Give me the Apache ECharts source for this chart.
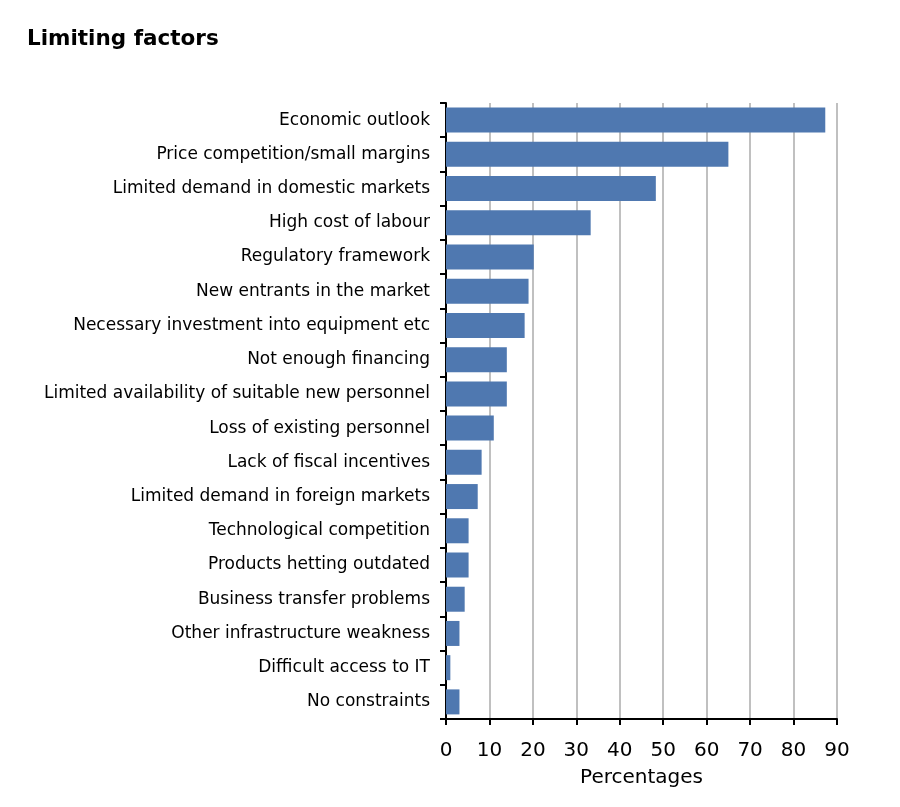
<!DOCTYPE html>
<html>
<head>
<meta charset="utf-8">
<script src="https://cdn.jsdelivr.net/npm/echarts@6/dist/echarts.min.js"></script>
<style>
html,body{margin:0;padding:0;background:#fff;}
#chart{width:900px;height:807px;}
</style>
</head>
<body>
<div id="chart"></div>
<script>
const titleText = 'Limiting factors';
const categories = [
  'Economic outlook',
  'Price competition/small margins',
  'Limited demand in domestic markets',
  'High cost of labour',
  'Regulatory framework',
  'New entrants in the market',
  'Necessary investment into equipment etc',
  'Not enough financing',
  'Limited availability of suitable new personnel',
  'Loss of existing personnel',
  'Lack of fiscal incentives',
  'Limited demand in foreign markets',
  'Technological competition',
  'Products hetting outdated',
  'Business transfer problems',
  'Other infrastructure weakness',
  'Difficult access to IT',
  'No constraints'
];
const values = [87.3, 65.0, 48.3, 33.3, 20.2, 19.0, 18.1, 14.0, 14.0, 11.0, 8.2, 7.3, 5.2, 5.2, 4.3, 3.1, 1.0, 3.1];
const xAxisName = 'Percentages';

const FONT = '"DejaVu Sans", Verdana, sans-serif';
const chart = echarts.init(document.getElementById('chart'));
chart.setOption({
  animation: false,
  backgroundColor: '#ffffff',
  title: {
    text: titleText,
    left: 22,
    top: 23,
    textStyle: { fontFamily: FONT, fontWeight: 'bold', fontSize: 21.5, color: '#000' }
  },
  grid: { left: 446, right: 63, top: 103, bottom: 88, containLabel: false },
  xAxis: {
    type: 'value',
    min: 0, max: 90, interval: 10,
    name: xAxisName,
    nameLocation: 'middle',
    nameGap: 49,
    nameTextStyle: { fontFamily: FONT, fontSize: 20, color: '#000' },
    axisLine: { show: true, lineStyle: { color: '#000', width: 2 } },
    axisTick: { show: true, length: 6, lineStyle: { color: '#000', width: 2 } },
    axisLabel: { margin: 22, fontFamily: FONT, fontSize: 20, color: '#000' },
    splitLine: { show: true, lineStyle: { color: '#c0c0c0', width: 2 } }
  },
  yAxis: {
    type: 'category',
    inverse: true,
    data: categories,
    axisLine: { show: true, lineStyle: { color: '#000', width: 2 } },
    axisTick: { show: true, length: 6, lineStyle: { color: '#000', width: 2 } },
    axisLabel: { margin: 16, fontFamily: FONT, fontSize: 17, color: '#000' },
    splitLine: { show: false }
  },
  series: [{
    type: 'bar',
    data: values,
    barWidth: 25,
    itemStyle: { color: '#4f78b0' }
  }]
});
</script>
</body>
</html>
